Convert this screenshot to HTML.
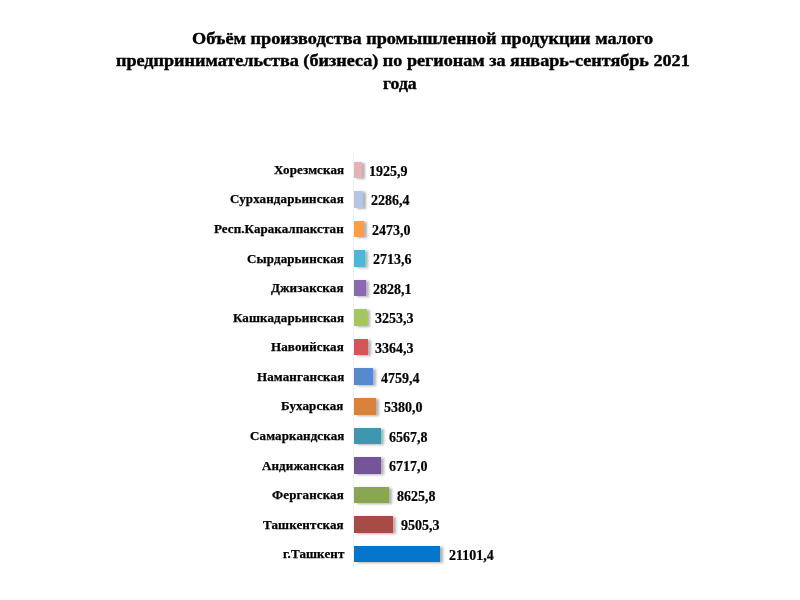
<!DOCTYPE html>
<html><head><meta charset="utf-8"><style>
html,body{margin:0;padding:0;background:#fff;width:800px;height:600px;overflow:hidden;position:relative}
#wrap{position:absolute;left:0;top:0;width:800px;height:600px;filter:none}
body{font-family:"Liberation Serif",serif;font-weight:bold;color:#000}
.t,.lab,.val{will-change:transform}
.t{position:absolute;font-size:17px;white-space:nowrap;line-height:22px;transform-origin:0 0;-webkit-text-stroke:0.4px #000}
.axis{position:absolute;left:353px;top:152px;width:1px;height:415px;background:#efefef}
.bar{position:absolute;box-shadow:3px 1px 2.5px rgba(0,0,0,0.3)}
.lab{position:absolute;right:456px;font-size:13px;line-height:16px;white-space:nowrap;text-align:right;letter-spacing:0.12px;-webkit-text-stroke:0.25px #000}
.val{position:absolute;font-size:14px;line-height:16px;white-space:nowrap;-webkit-text-stroke:0.2px #000}
</style></head><body><div id="wrap">
<div class="t" style="left:192px;top:27.6px;transform:scaleX(1.072)">Объём производства промышленной продукции малого</div>
<div class="t" style="left:115.5px;top:50.1px;transform:scaleX(1.067)">предпринимательства (бизнеса) по регионам за январь-сентябрь 2021</div>
<div class="t" style="left:382.5px;top:72.6px;transform:scaleX(1.04)">года</div>
<div class="axis"></div>
<div class="bar" style="top:161.50px;left:354.2px;width:7.81px;height:16.6px;background:#e7b2b3"></div>
<div class="lab" style="top:161.91px">Хорезмская</div>
<div class="val" style="top:163.65px;left:369.31px">1925,9</div>
<div class="bar" style="top:191.06px;left:354.2px;width:9.27px;height:16.6px;background:#b4c6e4"></div>
<div class="lab" style="top:191.47px">Сурхандарьинская</div>
<div class="val" style="top:193.21px;left:370.81px">2286,4</div>
<div class="bar" style="top:220.62px;left:354.2px;width:10.03px;height:16.6px;background:#fb9e48"></div>
<div class="lab" style="top:221.03px;letter-spacing:0.07px">Респ.Каракалпакстан</div>
<div class="val" style="top:222.77px;left:371.59px">2473,0</div>
<div class="bar" style="top:250.18px;left:354.2px;width:11.01px;height:16.6px;background:#4fb5d9"></div>
<div class="lab" style="top:250.59px">Сырдарьинская</div>
<div class="val" style="top:252.33px;left:372.59px">2713,6</div>
<div class="bar" style="top:279.74px;left:354.2px;width:11.47px;height:16.6px;background:#8b69b0"></div>
<div class="lab" style="top:280.15px">Джизакская</div>
<div class="val" style="top:281.89px;left:373.07px">2828,1</div>
<div class="bar" style="top:309.30px;left:354.2px;width:13.20px;height:16.6px;background:#a4c85f"></div>
<div class="lab" style="top:309.71px">Кашкадарьинская</div>
<div class="val" style="top:311.45px;left:374.84px">3253,3</div>
<div class="bar" style="top:338.86px;left:354.2px;width:13.65px;height:16.6px;background:#d25656"></div>
<div class="lab" style="top:339.27px">Навоийская</div>
<div class="val" style="top:341.01px;left:375.30px">3364,3</div>
<div class="bar" style="top:368.42px;left:354.2px;width:19.30px;height:16.6px;background:#558acd"></div>
<div class="lab" style="top:368.83px">Наманганская</div>
<div class="val" style="top:370.57px;left:381.11px">4759,4</div>
<div class="bar" style="top:397.98px;left:354.2px;width:21.82px;height:16.6px;background:#d9823c"></div>
<div class="lab" style="top:398.39px">Бухарская</div>
<div class="val" style="top:400.13px;left:383.70px">5380,0</div>
<div class="bar" style="top:427.54px;left:354.2px;width:26.64px;height:16.6px;background:#3f96b0"></div>
<div class="lab" style="top:427.95px">Самаркандская</div>
<div class="val" style="top:429.69px;left:388.64px">6567,8</div>
<div class="bar" style="top:457.10px;left:354.2px;width:27.24px;height:16.6px;background:#735598"></div>
<div class="lab" style="top:457.51px">Андижанская</div>
<div class="val" style="top:459.25px;left:389.26px">6717,0</div>
<div class="bar" style="top:486.66px;left:354.2px;width:34.99px;height:16.6px;background:#89a652"></div>
<div class="lab" style="top:487.07px">Ферганская</div>
<div class="val" style="top:488.81px;left:397.21px">8625,8</div>
<div class="bar" style="top:516.22px;left:354.2px;width:38.55px;height:16.6px;background:#a84a46"></div>
<div class="lab" style="top:516.63px">Ташкентская</div>
<div class="val" style="top:518.37px;left:400.88px">9505,3</div>
<div class="bar" style="top:545.78px;left:354.2px;width:85.59px;height:16.6px;background:#0676cc"></div>
<div class="lab" style="top:546.19px">г.Ташкент</div>
<div class="val" style="top:547.93px;left:449.17px">21101,4</div>
</div></body></html>
